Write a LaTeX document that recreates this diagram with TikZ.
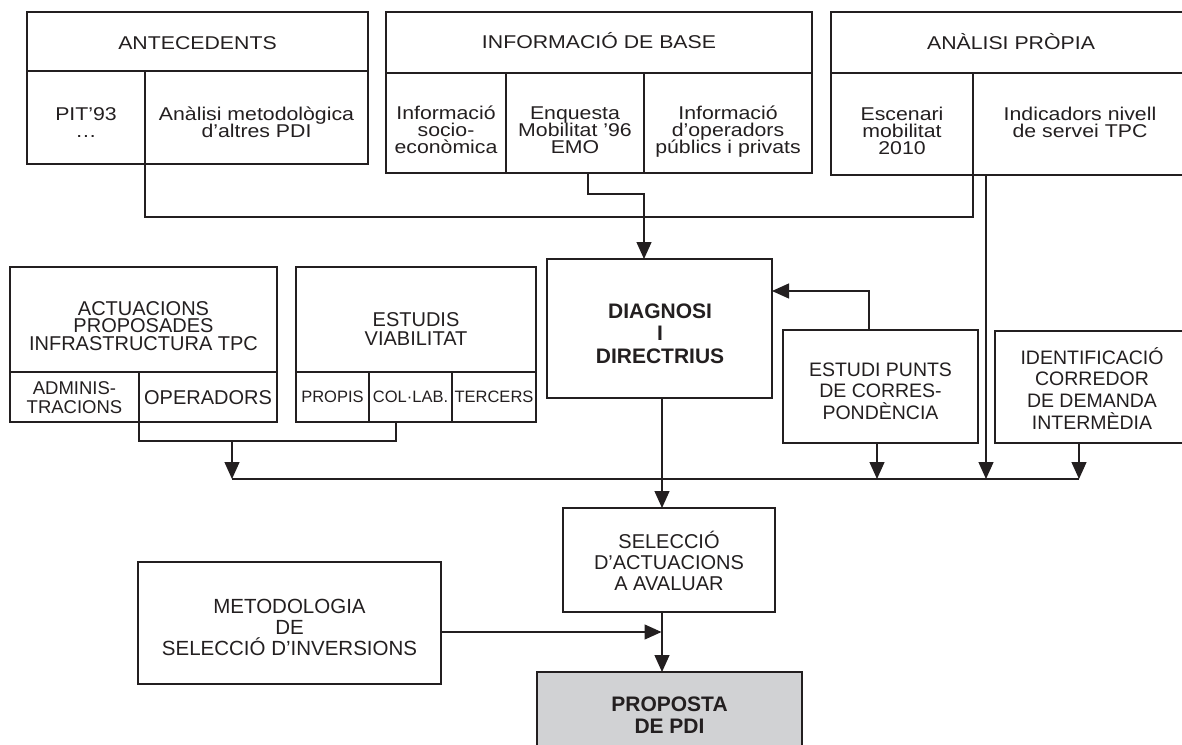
\documentclass[tikz,border=0pt]{standalone}
\usepackage{fontspec}
\setmainfont{Liberation Sans}
\newfontfamily\widefont[FakeStretch=1.15]{Liberation Sans}
\usetikzlibrary{arrows.meta}
\lineskiplimit=-100pt
\definecolor{linec}{RGB}{35,31,32}
\definecolor{propfill}{RGB}{209,210,212}
\newcommand\fst{\rule{0pt}{20pt}}
\begin{document}
\begin{tikzpicture}[x=1pt,y=-1pt,
  cell/.style={draw=linec,line width=1.3pt,inner sep=0pt,outer sep=0pt,anchor=north west},
  thickcell/.style={cell,line width=2.8pt},
  txt/.style={inner sep=0pt,outer sep=0pt,anchor=north,align=center,text=linec},
  topt/.style={txt,font=\widefont\fontsize{18.5}{17}\selectfont},
  conn/.style={draw=linec,line width=1.3pt},
  arr/.style={conn,-{Triangle[length=17pt,width=15pt]}}]
\useasboundingbox (0,0) rectangle (1182,744);

% ---------- top row ----------
\node[cell,minimum width=341pt,minimum height=59pt] (antH) at (27,12) {};
\node[cell,minimum width=118pt,minimum height=93pt] (antA) at (27,71) {};
\node[cell,minimum width=223pt,minimum height=93pt] (antB) at (145,71) {};
\node[cell,minimum width=426pt,minimum height=61pt] (infH) at (386,12) {};
\node[cell,minimum width=120pt,minimum height=100pt] (infA) at (386,73) {};
\node[cell,minimum width=138pt,minimum height=100pt] (infB) at (506,73) {};
\node[cell,minimum width=168pt,minimum height=100pt] (infC) at (644,73) {};
\node[cell,minimum width=360pt,minimum height=61pt] (anaH) at (831,12) {};
\node[cell,minimum width=142pt,minimum height=102pt] (anaA) at (831,73) {};
\node[cell,minimum width=218pt,minimum height=102pt] (anaB) at (973,73) {};

\node[topt] (tAntH) at (197.5,29) {\fst ANTECEDENTS};
\node[topt] (tInfH) at (599,28.5) {\fst INFORMACIÓ DE BASE};
\node[topt] (tAnaH) at (1011,29) {\fst ANÀLISI PRÒPIA};
\node[topt] (tAntA) at (86,100) {\fst PIT’93\\…};
\node[topt] (tAntB) at (256.5,100) {\fst Anàlisi metodològica\\d’altres PDI};
\node[topt] (tInfA) at (446,99) {\fst Informació\\socio-\\econòmica};
\node[topt] (tInfB) at (575,99) {\fst Enquesta\\Mobilitat ’96\\EMO};
\node[topt] (tInfC) at (728,99) {\fst Informació\\d’operadors\\públics i privats};
\node[topt] (tAnaA) at (902,100) {\fst Escenari\\mobilitat\\2010};
\node[topt] (tAnaB) at (1080,100) {\fst Indicadors nivell\\de servei TPC};

% ---------- middle row ----------
\node[cell,minimum width=267pt,minimum height=105pt] (actH) at (10,267) {};
\node[cell,minimum width=129pt,minimum height=50pt] (actA) at (10,372) {};
\node[cell,minimum width=138pt,minimum height=50pt] (actB) at (139,372) {};
\node[cell,minimum width=240pt,minimum height=105pt] (estH) at (296,267) {};
\node[cell,minimum width=73pt,minimum height=50pt] (estA) at (296,372) {};
\node[cell,minimum width=83pt,minimum height=50pt] (estB) at (369,372) {};
\node[cell,minimum width=84pt,minimum height=50pt] (estC) at (452,372) {};
\node[thickcell,minimum width=225pt,minimum height=139pt] (diag) at (547,259) {};
\node[cell,minimum width=195pt,minimum height=113pt] (estP) at (783,330) {};
\node[cell,minimum width=196pt,minimum height=112pt] (ident) at (995,331) {};

\node[txt,font=\fontsize{20}{17.7}\selectfont] (tActH) at (143.5,295) {\fst ACTUACIONS\\PROPOSADES\\INFRASTRUCTURA TPC};
\node[txt,font=\fontsize{18.5}{19.5}\selectfont] (tActA) at (74.5,374) {\fst ADMINIS-\\TRACIONS};
\node[txt,font=\fontsize{20}{20}\selectfont] (tActB) at (208,384) {\fst OPERADORS};
\node[txt,font=\fontsize{20}{18.3}\selectfont] (tEstH) at (416,306.7) {\fst ESTUDIS\\VIABILITAT};
\node[txt,font=\fontsize{16.5}{18}\selectfont] (tEstA) at (332.5,382) {\fst PROPIS};
\node[txt,font=\fontsize{16.5}{18}\selectfont] (tEstB) at (410.5,382) {\fst COL·LAB.};
\node[txt,font=\fontsize{16.5}{18}\selectfont] (tEstC) at (494,382) {\fst TERCERS};
\node[txt,font=\bfseries\fontsize{21}{22.5}\selectfont] (tDiag) at (660,298) {\fst DIAGNOSI\\I\\DIRECTRIUS};
\node[txt,font=\fontsize{19.5}{21.5}\selectfont] (tEstP) at (880.5,356) {\fst ESTUDI PUNTS\\DE CORRES-\\PONDÈNCIA};
\node[txt,font=\fontsize{19.5}{21.7}\selectfont] (tIdent) at (1092,344) {\fst IDENTIFICACIÓ\\CORREDOR\\DE DEMANDA\\INTERMÈDIA};

% ---------- bottom ----------
\node[cell,minimum width=212pt,minimum height=104pt] (selec) at (563,508) {};
\node[cell,minimum width=303pt,minimum height=122pt] (meto) at (138,562) {};
\node[thickcell,fill=propfill,minimum width=265pt,minimum height=90pt] (prop) at (537,672) {};

\node[txt,font=\fontsize{20}{21.2}\selectfont] (tSelec) at (669,528.3) {\fst SELECCIÓ\\D’ACTUACIONS\\A AVALUAR};
\node[txt,font=\fontsize{20.5}{21.3}\selectfont] (tMeto) at (289.5,593.3) {\fst METODOLOGIA\\DE\\SELECCIÓ D’INVERSIONS};
\node[txt,font=\bfseries\fontsize{21}{22}\selectfont] (tProp) at (669.5,691) {\fst PROPOSTA\\DE PDI};

% ---------- connectors ----------
\coordinate (jA) at (145,217);
\coordinate (jB) at (973,217);
\draw[conn] (antB.south west) -- (jA) -- (jB) -- (anaB.south west);

\coordinate (eqA) at (588,194);
\coordinate (eqB) at (644,194);
\draw[arr] (eqA |- infB.south) -- (eqA) -- (eqB) -- (eqB |- diag.north);

\coordinate (busL) at (232,479);
\coordinate (busR) at (1079,479);
\draw[conn] (busL) -- (busR);

\coordinate (cA) at (139,441);
\coordinate (cB) at (396,441);
\coordinate (cM) at (232,441);
\draw[conn] (actB.south west) -- (cA) -- (cB) -- (cB |- estB.south);
\draw[arr] (cM) -- (busL);

\coordinate (ind) at (986,175);
\draw[arr] (ind) -- (ind |- busL);

\coordinate (ep) at (877,443);
\draw[arr] (ep) -- (ep |- busL);
\draw[arr] (busR |- ident.south) -- (busR);

\coordinate (fb) at (869,291);
\draw[arr] (fb |- estP.north) -- (fb) -- (fb -| diag.east);

\coordinate (dv) at (662,398);
\draw[arr] (dv) -- (dv |- selec.north);
\draw[arr] (dv |- selec.south) -- (dv |- prop.north);

\coordinate (mA) at (441,632);
\coordinate (mB) at (661.5,632);
\draw[arr] (mA) -- (mB);
\end{tikzpicture}
\end{document}
